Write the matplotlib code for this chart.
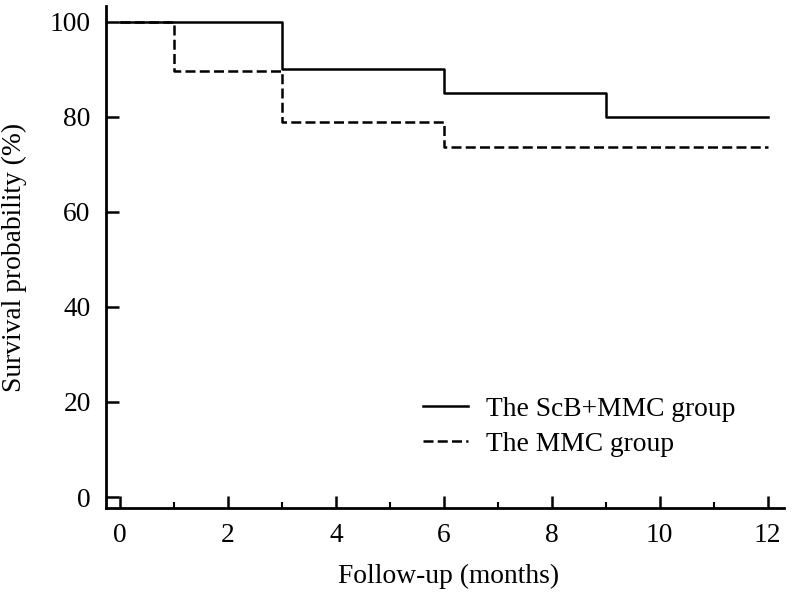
import numpy as np
import matplotlib.pyplot as plt
from matplotlib.ticker import MultipleLocator

plt.rcParams['font.family'] = ['Liberation Serif', 'DejaVu Serif']

# Данные Каплана-Мейера
months_scb = [0, 3, 6, 9, 12]
surv_scb = [100, 90, 85, 80, 80]
months_mmc = [0, 1, 3, 6, 12]
surv_mmc = [100, 89.5, 78.9, 73.7, 73.7]

fs = 19.8

fig = plt.figure(figsize=(8, 6.03), dpi=100)
ax = fig.add_axes([0.1325, 0.1575, 0.848, 0.832])

ax.step(months_scb, surv_scb, where='post', color='black', linewidth=1.8,
        label='The ScB+MMC group')
ax.step(months_mmc, surv_mmc, where='post', color='black', linewidth=1.8,
        linestyle=(0, (4, 1.7)), label='The MMC group')

ax.set_xlim(-0.26, 12.31)
ax.set_ylim(-2.3, 103.2)
ax.xaxis.set_major_locator(MultipleLocator(2))
ax.xaxis.set_minor_locator(MultipleLocator(1))
ax.yaxis.set_major_locator(MultipleLocator(20))

for side in ['top', 'right']:
    ax.spines[side].set_visible(False)
for side in ['left', 'bottom']:
    ax.spines[side].set_linewidth(2)

ax.tick_params(axis='both', which='major', direction='in', width=1.8,
               labelsize=fs, colors='black')
ax.tick_params(axis='x', which='major', length=8.5, pad=11)
ax.tick_params(axis='y', which='major', length=9.5, pad=11)
ax.tick_params(axis='x', which='minor', direction='in', length=4, width=1.5)

ax.set_xlabel('Follow-up (months)', fontsize=fs)
ax.set_ylabel('Survival probability (%)', fontsize=fs)
ax.xaxis.set_label_coords(0.505, -0.112)
ax.yaxis.set_label_coords(-0.116, 0.5)

ax.legend(loc='center left', bbox_to_anchor=(0.511, 0.292), bbox_transform=fig.transFigure,
          frameon=False, fontsize=fs, borderpad=0, handlelength=1.65,
          handletextpad=0.65, labelspacing=0.35)

fig.savefig('out.png', dpi=100)
